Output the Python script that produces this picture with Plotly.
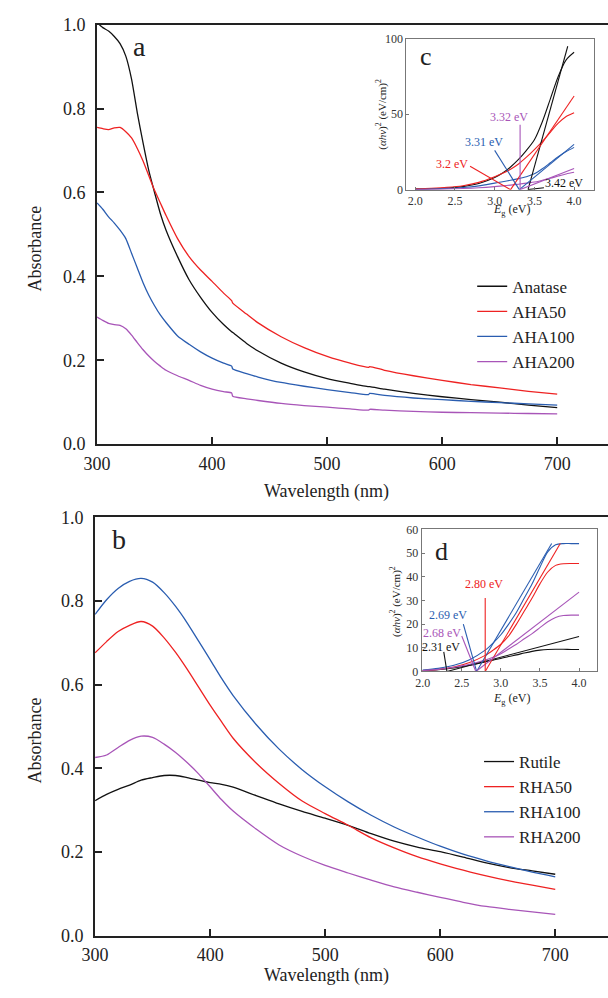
import plotly.graph_objects as go

W, H = 608, 998
FONT = "Liberation Serif, 'Times New Roman', Times, 'DejaVu Serif', serif"
BLACK = "#111111"
RED = "#ee2222"
BLUE = "#2a5db0"
PURPLE = "#a855b8"
AXC = "#222222"
INC = "#777777"

# ---------------- Panel a: anatase series ----------------
wl_a = [300, 305, 310, 315, 320, 325, 330, 335, 340, 345, 350, 355, 360, 370, 380, 390, 400,
        410, 417, 418, 430, 440, 460, 480, 500, 520, 536, 537, 550, 575, 600, 625, 650, 675, 700]
anatase = [1.005, 0.993, 0.985, 0.972, 0.955, 0.925, 0.870, 0.790, 0.718, 0.652, 0.600, 0.550, 0.510,
           0.447, 0.392, 0.350, 0.314, 0.285, 0.268, 0.266, 0.240, 0.222, 0.193, 0.172, 0.156, 0.145,
           0.137, 0.137, 0.131, 0.121, 0.113, 0.106, 0.100, 0.093, 0.087]
aha50 = [0.755, 0.752, 0.750, 0.754, 0.755, 0.745, 0.730, 0.705, 0.675, 0.640, 0.605, 0.575, 0.545,
         0.490, 0.447, 0.415, 0.388, 0.360, 0.342, 0.336, 0.310, 0.289, 0.256, 0.230, 0.209, 0.193,
         0.183, 0.185, 0.176, 0.163, 0.152, 0.142, 0.134, 0.126, 0.119]
aha100 = [0.575, 0.560, 0.542, 0.527, 0.510, 0.490, 0.455, 0.420, 0.385, 0.355, 0.330, 0.308, 0.290,
          0.258, 0.238, 0.220, 0.205, 0.193, 0.186, 0.179, 0.168, 0.160, 0.147, 0.138, 0.130, 0.123,
          0.118, 0.121, 0.116, 0.110, 0.106, 0.102, 0.099, 0.096, 0.093]
aha200 = [0.303, 0.295, 0.288, 0.285, 0.283, 0.275, 0.260, 0.242, 0.225, 0.210, 0.197, 0.186, 0.176,
          0.163, 0.152, 0.140, 0.131, 0.125, 0.122, 0.114, 0.108, 0.104, 0.097, 0.092, 0.088, 0.084,
          0.081, 0.083, 0.081, 0.078, 0.076, 0.075, 0.074, 0.073, 0.072]
names_a = ["Anatase", "AHA50", "AHA100", "AHA200"]

# ---------------- Panel b: rutile series ----------------
wl_b = [300, 310, 320, 330, 340, 350, 360, 370, 380, 390, 400, 410, 420, 440, 460, 480, 500,
        520, 540, 560, 580, 600, 620, 640, 660, 680, 700]
rutile = [0.323, 0.338, 0.350, 0.360, 0.372, 0.378, 0.383, 0.383, 0.378, 0.372, 0.366, 0.362, 0.355,
          0.335, 0.315, 0.297, 0.281, 0.264, 0.244, 0.226, 0.212, 0.201, 0.188, 0.174, 0.163, 0.155, 0.147]
rha50 = [0.676, 0.703, 0.727, 0.742, 0.751, 0.740, 0.712, 0.677, 0.637, 0.594, 0.551, 0.511, 0.472,
         0.413, 0.364, 0.322, 0.292, 0.264, 0.234, 0.210, 0.189, 0.172, 0.157, 0.143, 0.131, 0.121, 0.111]
rha100 = [0.768, 0.803, 0.830, 0.847, 0.854, 0.845, 0.820, 0.787, 0.748, 0.704, 0.660, 0.615, 0.574,
          0.505, 0.446, 0.397, 0.356, 0.320, 0.288, 0.260, 0.236, 0.214, 0.195, 0.179, 0.165, 0.152, 0.141]
rha200 = [0.426, 0.432, 0.450, 0.467, 0.477, 0.474, 0.458, 0.438, 0.414, 0.387, 0.356, 0.325, 0.298,
          0.255, 0.217, 0.190, 0.168, 0.150, 0.133, 0.117, 0.104, 0.092, 0.080, 0.070, 0.063, 0.057, 0.051]
names_b = ["Rutile", "RHA50", "RHA100", "RHA200"]

# ---------------- Inset c: Tauc plots (anatase) ----------------
eg_c = [2.0, 2.2, 2.4, 2.6, 2.8, 3.0, 3.1, 3.2, 3.3, 3.4, 3.5, 3.6, 3.7, 3.8, 3.9, 4.0]
c_anatase = [0.3, 0.6, 1.1, 2.0, 4.0, 8.0, 11.0, 15.0, 20.0, 26.0, 33.0, 45.0, 60.0, 75.0, 86.0, 91.0]
c_aha50 = [0.5, 0.9, 1.5, 2.6, 4.8, 8.5, 10.8, 13.5, 17.0, 21.5, 26.5, 32.0, 38.0, 44.0, 48.5, 51.0]
c_aha100 = [0.2, 0.4, 0.8, 1.4, 2.5, 4.3, 5.2, 6.2, 7.3, 8.6, 10.5, 13.8, 17.8, 21.8, 25.2, 28.0]
c_aha200 = [0.1, 0.2, 0.4, 0.7, 1.2, 2.0, 2.5, 3.0, 3.6, 4.3, 5.0, 6.2, 7.5, 9.0, 10.4, 11.5]
c_gap = [3.42, 3.2, 3.31, 3.32]
c_tan_x = [3.92, 4.0, 4.0, 4.0]
c_tan_y = [95.0, 62.0, 30.0, 14.0]
c_labels = ["3.42 eV", "3.2 eV", "3.31 eV", "3.32 eV"]
c_lab_x = [3.87, 2.46, 2.87, 3.18]
c_lab_y = [4.7, 17.3, 31.4, 48.0]
c_ptr_x = [3.62, 2.69, 3.0, 3.32]
c_ptr_y = [1.2, 15.5, 26.0, 43.0]

# ---------------- Inset d: Tauc plots (rutile) ----------------
eg_d = [2.0, 2.2, 2.4, 2.6, 2.8, 2.9, 3.0, 3.1, 3.2, 3.3, 3.4, 3.5, 3.6, 3.7, 3.8, 3.9, 4.0]
d_rutile = [0.3, 0.8, 1.5, 2.6, 4.0, 4.8, 5.5, 6.3, 7.0, 7.8, 8.5, 9.0, 9.3, 9.4, 9.4, 9.3, 9.3]
d_rha50 = [0.4, 0.9, 1.9, 3.8, 6.8, 9.0, 11.5, 15.0, 20.0, 25.5, 31.0, 37.0, 42.0, 44.8, 45.5, 45.6, 45.6]
d_rha100 = [0.6, 1.3, 2.6, 5.0, 9.0, 12.0, 15.5, 20.0, 25.0, 31.0, 37.0, 44.0, 50.5, 53.5, 54.0, 54.0, 54.0]
d_rha200 = [0.4, 0.9, 1.8, 3.0, 4.8, 6.0, 7.5, 9.5, 11.5, 13.8, 16.0, 18.5, 21.0, 22.8, 23.6, 23.8, 23.8]
d_gap = [2.31, 2.80, 2.69, 2.68]
d_tan_x = [4.0, 3.76, 3.65, 4.0]
d_tan_y = [14.8, 54.0, 54.0, 33.5]
d_labels = ["2.31 eV", "2.80 eV", "2.69 eV", "2.68 eV"]
d_lab_x = [2.23, 2.79, 2.33, 2.25]
d_lab_y = [10.3, 36.9, 23.7, 16.3]
d_ptr_x = [2.27, 2.80, 2.52, 2.50]
d_ptr_y = [8.3, 31.0, 20.0, 15.0]

colors = [BLACK, RED, BLUE, PURPLE]

fig = go.Figure()

for nm, ys, col in zip(names_a, [anatase, aha50, aha100, aha200], colors):
    fig.add_trace(go.Scatter(x=wl_a, y=ys, mode="lines", name=nm,
                             line=dict(color=col, width=1.3, shape="spline", smoothing=0.6),
                             xaxis="x", yaxis="y", legend="legend"))
for nm, ys, col in zip(names_b, [rutile, rha50, rha100, rha200], colors):
    fig.add_trace(go.Scatter(x=wl_b, y=ys, mode="lines", name=nm,
                             line=dict(color=col, width=1.3, shape="spline", smoothing=0.8),
                             xaxis="x2", yaxis="y2", legend="legend2"))

def inset(xs, series, gaps, tx, ty, px, py, xa, ya):
    for ys, col in zip(series, colors):
        fig.add_trace(go.Scatter(x=xs, y=ys, mode="lines",
                                 line=dict(color=col, width=1.1, shape="spline", smoothing=0.8),
                                 xaxis=xa, yaxis=ya, showlegend=False, hoverinfo="skip"))
    for g, x1, y1, col in zip(gaps, tx, ty, colors):
        fig.add_trace(go.Scatter(x=[g, x1], y=[0, y1], mode="lines", line=dict(color=col, width=1.1),
                                 xaxis=xa, yaxis=ya, showlegend=False, hoverinfo="skip"))
    for g, x0, y0, col in zip(gaps, px, py, colors):
        fig.add_trace(go.Scatter(x=[x0, g], y=[y0, 0], mode="lines", line=dict(color=col, width=1.1),
                                 xaxis=xa, yaxis=ya, showlegend=False, hoverinfo="skip"))

inset(eg_c, [c_anatase, c_aha50, c_aha100, c_aha200], c_gap, c_tan_x, c_tan_y, c_ptr_x, c_ptr_y, "x3", "y3")
inset(eg_d, [d_rutile, d_rha50, d_rha100, d_rha200], d_gap, d_tan_x, d_tan_y, d_ptr_x, d_ptr_y, "x4", "y4")

def sx(p):
    return p / W

def sy(p):
    return 1 - p / H

main_x = dict(showline=True, linecolor=AXC, linewidth=2, mirror=True, ticks="inside", ticklen=7,
              tickwidth=1.5, tickcolor=AXC, dtick=100, tick0=300, showgrid=False, zeroline=False,
              ticklabelstandoff=2, tickfont=dict(family=FONT, size=18, color="#222"))
main_y = dict(showline=True, linecolor=AXC, linewidth=2, ticks="inside", ticklen=7, tickwidth=1.5,
              tickcolor=AXC, dtick=0.2, tick0=0, tickformat=".1f", range=[0, 1.0], showgrid=False,
              zeroline=False, ticklabelstandoff=6, tickfont=dict(family=FONT, size=18, color="#222"))
in_x = dict(showline=True, linecolor=INC, linewidth=1, mirror=True, ticks="inside", ticklen=3,
            tickcolor=INC, showgrid=False, zeroline=False, tickformat=".1f",
            tickvals=[2.0, 2.5, 3.0, 3.5, 4.0], tickfont=dict(family=FONT, size=12, color="#333"))
in_y = dict(showline=True, linecolor=INC, linewidth=1, mirror=True, ticks="inside", ticklen=3,
            tickcolor=INC, showgrid=False, zeroline=False, tickfont=dict(family=FONT, size=12, color="#333"))

PXNM = 1.1775  # px per nm
fig.update_layout(
    width=W, height=H, margin=dict(l=0, r=0, t=0, b=0),
    paper_bgcolor="white", plot_bgcolor="rgba(0,0,0,0)",
    font=dict(family=FONT, color="#222"),
    xaxis=dict(main_x, domain=[sx(85), 1.0], range=[300, 300 + (W - 85) / PXNM], anchor="y"),
    yaxis=dict(main_y, domain=[sy(443), sy(15)], anchor="x"),
    xaxis2=dict(main_x, domain=[sx(83), 1.0], range=[300, 300 + (W - 83) / PXNM], anchor="y2"),
    yaxis2=dict(main_y, domain=[sy(944.7), sy(517.7)], anchor="x2"),
    xaxis3=dict(in_x, domain=[sx(401.7), sx(593.3)], range=[1.889, 4.246], anchor="y3"),
    yaxis3=dict(in_y, domain=[sy(183.3), sy(29.3)], range=[0, 100], tickvals=[0, 50, 100], anchor="x3"),
    xaxis4=dict(in_x, domain=[sx(417.3), sx(597)], range=[1.9875, 4.233], anchor="y4"),
    yaxis4=dict(in_y, domain=[sy(675), sy(530)], range=[0, 60], tickvals=[0, 10, 20, 30, 40, 50, 60], anchor="x4"),
    legend=dict(x=sx(469), y=sy(264), xanchor="left", yanchor="top", bgcolor="rgba(0,0,0,0)",
                font=dict(family=FONT, size=17, color="#222"), tracegroupgap=0),
    legend2=dict(x=sx(476), y=sy(749), xanchor="left", yanchor="top", bgcolor="rgba(0,0,0,0)",
                 font=dict(family=FONT, size=17, color="#222"), tracegroupgap=0),
    showlegend=True,
)

ann = []
def text(x, y, s, size, color="#222", angle=0, xref="paper", yref="paper"):
    ann.append(dict(x=x, y=y, xref=xref, yref=yref, text=s, showarrow=False, textangle=angle,
                    font=dict(family=FONT, size=size, color=color), xanchor="center", yanchor="middle"))

text(sx(22), sy(243), "Absorbance", 18, angle=-90)
text(sx(22), sy(745), "Absorbance", 18, angle=-90)
text(sx(320), sy(491), "Wavelength (nm)", 18)
text(sx(320), sy(985), "Wavelength (nm)", 18)
text(sx(128), sy(37), "a", 28)
text(sx(107), sy(540), "b", 28)
text(sx(422), sy(47), "c", 26)
text(sx(438), sy(553), "d", 26)
ytit = "(<i>αhν</i>)<sup>2</sup> (eV/cm)<sup>2</sup>"
text(sx(376), sy(106.5), ytit, 11, angle=-90)
text(sx(391), sy(603), ytit, 11, angle=-90)
text(sx(510), sy(204), "<i>E</i><sub>g</sub> (eV)", 12)
text(sx(510), sy(703), "<i>E</i><sub>g</sub> (eV)", 12)
for s, x, y, col in zip(c_labels, c_lab_x, c_lab_y, colors):
    text(x, y, s, 12, color=col, xref="x3", yref="y3")
for s, x, y, col in zip(d_labels, d_lab_x, d_lab_y, colors):
    text(x, y, s, 12, color=col, xref="x4", yref="y4")

fig.update_layout(annotations=ann)
fig.write_html("out.html", config={"displayModeBar": False},
               post_script="document.body.style.margin='0px'; document.body.style.overflow='hidden';")
